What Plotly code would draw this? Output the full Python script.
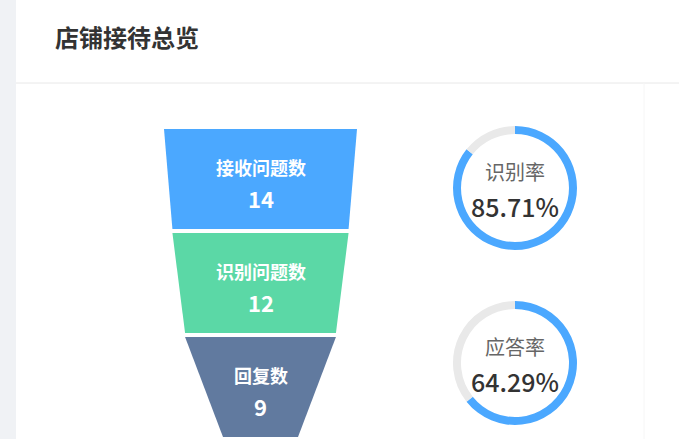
import plotly.graph_objects as go

# --- data ---
stage_names = ["接收问题数", "识别问题数", "回复数"]
stage_values = [14, 12, 9]
stage_colors = ["#4ba8ff", "#5bd8a6", "#617a9f"]

rate_names = ["识别率", "应答率"]
rate_values = [85.71, 64.29]

# --- layout constants (pixels) ---
W, H = 679, 439
FONT = "Noto Sans CJK SC"
funnel_cx = 260.5
funnel_top = 129
stage_h = 100
stage_gap = 4
min_w, px_per_unit = 75, 8.43   # width of a stage edge = min_w + px_per_unit * value

donut_cx = 515
donut_cy = [188, 363]
donut_r = 62

fig = go.Figure()

# funnel stages as trapezoids, top edge from own value, bottom edge from next value
for i, (name, val, col) in enumerate(zip(stage_names, stage_values, stage_colors)):
    nxt = stage_values[i + 1] if i + 1 < len(stage_values) else 0
    w_top = min_w + px_per_unit * val
    w_bot = min_w + px_per_unit * nxt
    y0 = funnel_top + i * (stage_h + stage_gap)
    y1 = y0 + stage_h
    fig.add_trace(go.Scatter(
        x=[funnel_cx - w_top / 2, funnel_cx + w_top / 2, funnel_cx + w_bot / 2, funnel_cx - w_bot / 2],
        y=[y0, y0, y1, y1],
        fill="toself", fillcolor=col, mode="lines", line=dict(width=0),
        hoverinfo="skip", showlegend=False,
    ))
    yc = (y0 + y1) / 2
    fig.add_annotation(x=funnel_cx, y=yc - 12, text=name, showarrow=False,
                       font=dict(family=FONT, size=18, color="white", weight="bold"))
    fig.add_annotation(x=funnel_cx, y=yc + 19, text=str(val), showarrow=False,
                       font=dict(family=FONT, size=22, color="white", weight="bold"))

# rate donuts
for name, val, cy in zip(rate_names, rate_values, donut_cy):
    fig.add_trace(go.Pie(
        values=[val, 100 - val], marker=dict(colors=["#4ba8ff", "#e9e9e9"]),
        hole=(donut_r - 8) / donut_r, sort=False, direction="clockwise", rotation=0,
        textinfo="none", hoverinfo="skip", showlegend=False,
        domain=dict(x=[(donut_cx - donut_r) / W, (donut_cx + donut_r) / W],
                    y=[1 - (cy + donut_r) / H, 1 - (cy - donut_r) / H]),
    ))
    fig.add_annotation(x=donut_cx, y=cy - 17, text=name, showarrow=False,
                       font=dict(family=FONT, size=20, color="#666666"))
    fig.add_annotation(x=donut_cx, y=cy + 18, text=f"{val:.2f}%", showarrow=False,
                       font=dict(family=FONT, size=25, color="#333333", weight=500))

# card chrome: grey strip on the left, header divider, faint right divider
fig.add_shape(type="rect", x0=0, x1=16, y0=0, y1=H, fillcolor="#f0f2f5", line_width=0, layer="below")
fig.add_shape(type="line", x0=16, x1=W, y0=83, y1=83, line=dict(color="#e8e8e8", width=1))
fig.add_shape(type="line", x0=644, x1=644, y0=83, y1=H, line=dict(color="#f6f6f6", width=1))
fig.add_annotation(x=53, y=36, xanchor="left", text="店铺接待总览", showarrow=False,
                   font=dict(family=FONT, size=24, color="#333333", weight="bold"))

fig.update_xaxes(range=[0, W], visible=False, fixedrange=True)
fig.update_yaxes(range=[H, 0], visible=False, fixedrange=True)
fig.update_layout(
    width=W, height=H, margin=dict(l=0, r=0, t=0, b=0),
    paper_bgcolor="white", plot_bgcolor="white", hovermode=False,
)

# the page's default 8px body margin would shift the whole card
fig.write_html("out.html", config={"displayModeBar": False},
               post_script="document.body.style.margin='0';document.body.style.overflow='hidden';")
